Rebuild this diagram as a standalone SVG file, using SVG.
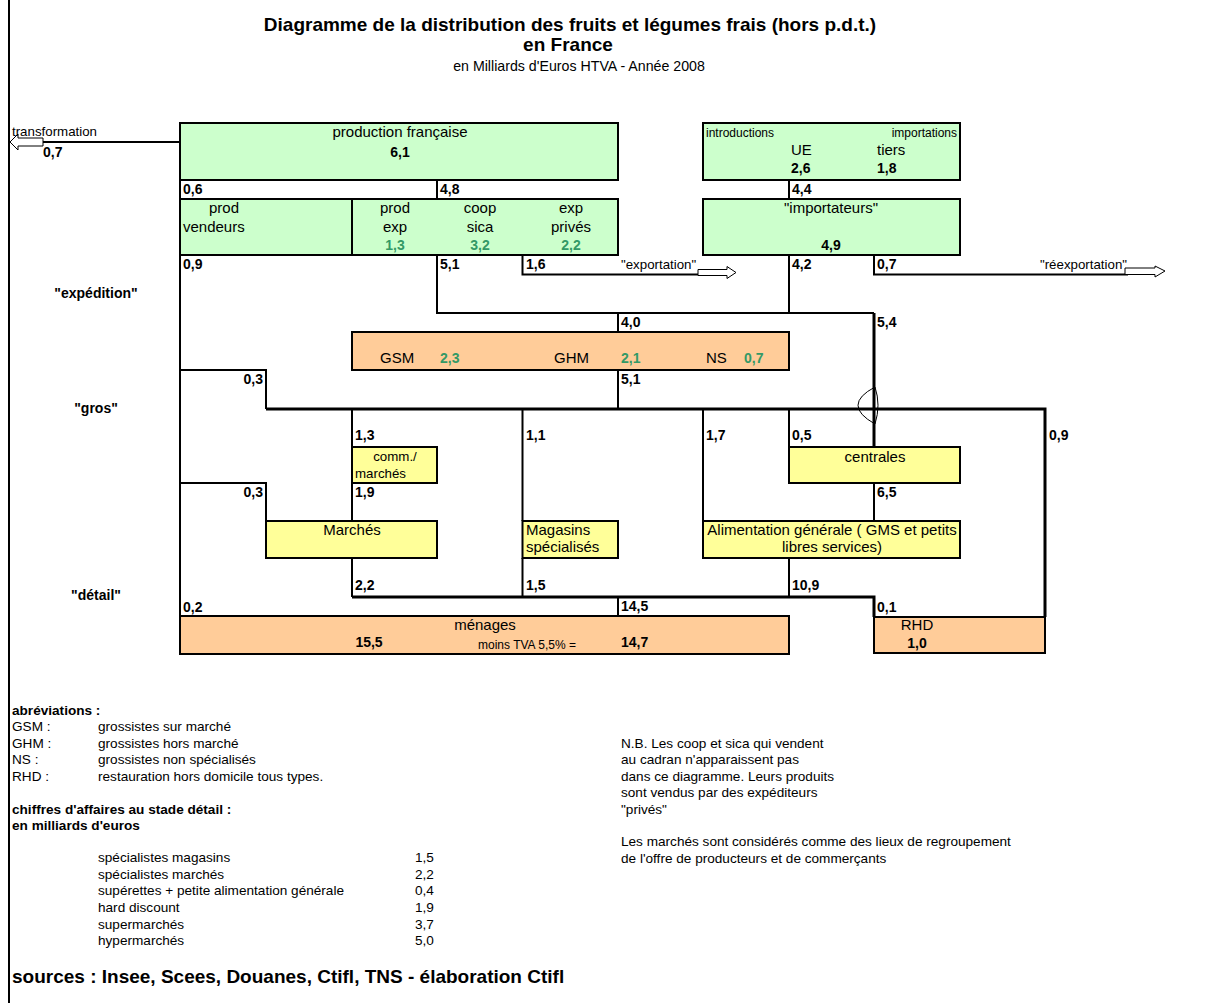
<svg xmlns="http://www.w3.org/2000/svg" width="1214" height="1003" viewBox="0 0 1214 1003">
  <style>
    text { font-family: "Liberation Sans", Arial, sans-serif; fill: #000; }
    .t1 { font-size: 19px; font-weight: bold; }
    .st { font-size: 13.3px; }
    .sub { font-size: 14.2px; }
    .lbl { font-size: 15px; }
    .lbm { font-size: 13.3px; }
    .sm { font-size: 12px; }
    .num { font-size: 14px; font-weight: bold; }
    .grn { fill: #339966; }
    .stage { font-size: 14px; font-weight: bold; }
    .leg { font-size: 13.6px; }
    .legb { font-size: 13.6px; font-weight: bold; }
    .src { font-size: 19px; font-weight: bold; }
    .mid { text-anchor: middle; }
    .end { text-anchor: end; }
    .box { stroke: #000; stroke-width: 2; }
    .g { fill: #CCFFCC; }
    .o { fill: #FFCC99; }
    .y { fill: #FFFF99; }
    .ln { stroke: #000; stroke-width: 2; fill: none; }
    .thk { stroke-width: 3; }
    .arw { fill: #fff; stroke: #000; stroke-width: 1; }
    .thin { stroke: #000; stroke-width: 1; fill: none; }
  </style>

  <rect x="0" y="0" width="1214" height="1003" fill="#fff"/>
  <line x1="9" y1="0" x2="9" y2="1003" class="ln"/>

  <!-- heading -->
  <g id="title">
    <text x="570" y="31" class="t1 mid">Diagramme de la distribution des fruits et légumes frais (hors p.d.t.)</text>
    <text x="568" y="51" class="t1 mid">en France</text>
    <text x="579" y="71" class="sub mid">en Milliards d'Euros HTVA - Année 2008</text>
  </g>

  <!-- flows between stages -->
  <g id="connectors">
    <path class="ln" d="M180 142 H43"/>
    <polygon class="arw" points="43,138 18,138 18,134 10,142 18,150 18,146 43,146"/>
    <path class="ln" d="M180 180 V199 M437 180 V199 M789 180 V199"/>
    <path class="ln" d="M180 255 V616"/>
    <path class="ln" d="M437 255 V313 H874"/>
    <path class="ln" d="M789 255 V313"/>
    <path class="ln" d="M522.5 255 V274.5 H703"/>
    <polygon class="arw" points="698,269.5 727,269.5 727,266.5 736,272.5 727,278.5 727,275.5 698,275.5"/>
    <path class="ln" d="M874 255 V274.5 H1128"/>
    <polygon class="arw" points="1125,268 1155,268 1155,266 1165,271 1155,277 1155,274.5 1125,274.5"/>
    <path class="ln" d="M618 313 V332"/>
    <path class="ln thk" d="M874 313 V447"/>
    <path class="ln" d="M618 370 V409"/>
    <path class="ln" d="M180 370 H266 V409"/>
    <path class="ln thk" d="M266 409 H1045 V617"/>
    <path class="thin" d="M875 387 Q841 405 875 424 M875 387 Q881 405 875 424"/>
    <path class="ln" d="M352 409 V447 M522.5 409 V521 M703 409 V521 M789 409 V447"/>
    <path class="ln" d="M352 483 V521"/>
    <path class="ln" d="M180 483 H266 V521"/>
    <path class="ln" d="M874 483 V521"/>
    <path class="ln" d="M352 558 V597 M522.5 558 V597 M789 558 V597"/>
    <path class="ln thk" d="M352 597 H874 V617"/>
    <path class="ln" d="M618 597 V616"/>
  </g>

  <!-- production stage -->
  <g id="production">
    <rect x="180" y="123" width="438" height="57" class="box g"/>
    <text x="400" y="137" class="lbl mid">production française</text>
    <text x="400" y="157" class="num mid">6,1</text>
  </g>
  <g id="introductions">
    <rect x="703" y="123" width="257" height="57" class="box g"/>
    <text x="706" y="137" class="sm">introductions</text>
    <text x="957" y="137" class="sm end">importations</text>
    <text x="791" y="155" class="lbl">UE</text>
    <text x="877" y="155" class="lbl">tiers</text>
    <text x="791" y="173" class="num">2,6</text>
    <text x="877" y="173" class="num">1,8</text>
  </g>

  <!-- expedition stage -->
  <g id="expediteurs">
    <rect x="180" y="199" width="438" height="56" class="box g"/>
    <line x1="352" y1="199" x2="352" y2="255" class="ln"/>
    <text x="224" y="213" class="lbl mid">prod</text>
    <text x="183" y="232" class="lbl">vendeurs</text>
    <text x="395" y="213" class="lbl mid">prod</text>
    <text x="395" y="232" class="lbl mid">exp</text>
    <text x="395" y="250" class="num mid grn">1,3</text>
    <text x="480" y="213" class="lbl mid">coop</text>
    <text x="480" y="232" class="lbl mid">sica</text>
    <text x="480" y="250" class="num mid grn">3,2</text>
    <text x="571" y="213" class="lbl mid">exp</text>
    <text x="571" y="232" class="lbl mid">privés</text>
    <text x="571" y="250" class="num mid grn">2,2</text>
  </g>
  <g id="importateurs">
    <rect x="703" y="199" width="257" height="56" class="box g"/>
    <text x="831" y="213" class="lbl mid">"importateurs"</text>
    <text x="831" y="250" class="num mid">4,9</text>
  </g>

  <!-- wholesale stage -->
  <g id="grossistes">
    <rect x="352" y="332" width="437" height="38" class="box o"/>
    <text x="380" y="363" class="lbl">GSM</text>
    <text x="440" y="363" class="num grn">2,3</text>
    <text x="554" y="363" class="lbl">GHM</text>
    <text x="621" y="363" class="num grn">2,1</text>
    <text x="706" y="363" class="lbl">NS</text>
    <text x="744" y="363" class="num grn">0,7</text>
  </g>
  <g id="comm-marches">
    <rect x="352" y="447" width="85" height="36" class="box y"/>
    <text x="395" y="461" class="lbm mid">comm./</text>
    <text x="355" y="478" class="lbm">marchés</text>
  </g>
  <g id="centrales">
    <rect x="789" y="447" width="171" height="36" class="box y"/>
    <text x="875" y="462" class="lbl mid">centrales</text>
  </g>

  <!-- retail stage -->
  <g id="marches">
    <rect x="266" y="521" width="171" height="37" class="box y"/>
    <text x="352" y="535" class="lbl mid">Marchés</text>
  </g>
  <g id="magasins">
    <rect x="522.5" y="521" width="95.5" height="37" class="box y"/>
    <text x="526" y="535" class="lbl">Magasins</text>
    <text x="526" y="552" class="lbl">spécialisés</text>
  </g>
  <g id="alimentation">
    <rect x="703" y="521" width="257" height="37" class="box y"/>
    <text x="832" y="535" class="lbl mid">Alimentation générale ( GMS et petits</text>
    <text x="832" y="552" class="lbl mid">libres services)</text>
  </g>

  <!-- consumers -->
  <g id="menages">
    <rect x="180" y="616" width="609" height="38" class="box o"/>
    <text x="485" y="630" class="lbl mid">ménages</text>
    <text x="369" y="647" class="num mid">15,5</text>
    <text x="478" y="649" class="sm">moins TVA 5,5% =</text>
    <text x="621" y="647" class="num">14,7</text>
  </g>
  <g id="rhd">
    <rect x="874" y="617" width="171" height="36" class="box o"/>
    <text x="917" y="630" class="lbl mid">RHD</text>
    <text x="917" y="648" class="num mid">1,0</text>
  </g>

  <!-- flow values -->
  <g id="values">
    <text x="12" y="136" class="st">transformation</text>
    <text x="43" y="157" class="num">0,7</text>
    <text x="183" y="194" class="num">0,6</text>
    <text x="440" y="194" class="num">4,8</text>
    <text x="792" y="194" class="num">4,4</text>
    <text x="183" y="269" class="num">0,9</text>
    <text x="440" y="269" class="num">5,1</text>
    <text x="526" y="269" class="num">1,6</text>
    <text x="621" y="269" class="st">"exportation"</text>
    <text x="792" y="269" class="num">4,2</text>
    <text x="877" y="269" class="num">0,7</text>
    <text x="1127" y="269" class="st end">"réexportation"</text>
    <text x="621" y="327" class="num">4,0</text>
    <text x="877" y="327" class="num">5,4</text>
    <text x="263" y="384" class="num end">0,3</text>
    <text x="621" y="384" class="num">5,1</text>
    <text x="355" y="440" class="num">1,3</text>
    <text x="526" y="440" class="num">1,1</text>
    <text x="706" y="440" class="num">1,7</text>
    <text x="792" y="440" class="num">0,5</text>
    <text x="1049" y="440" class="num">0,9</text>
    <text x="263" y="497" class="num end">0,3</text>
    <text x="355" y="497" class="num">1,9</text>
    <text x="877" y="497" class="num">6,5</text>
    <text x="355" y="590" class="num">2,2</text>
    <text x="526" y="590" class="num">1,5</text>
    <text x="792" y="590" class="num">10,9</text>
    <text x="183" y="612" class="num">0,2</text>
    <text x="621" y="611" class="num">14,5</text>
    <text x="877" y="612" class="num">0,1</text>
  </g>

  <!-- stage names -->
  <g id="stages">
    <text x="96" y="298" class="stage mid">"expédition"</text>
    <text x="96" y="413" class="stage mid">"gros"</text>
    <text x="96" y="600" class="stage mid">"détail"</text>
  </g>

  <!-- notes -->
  <g id="legend">
    <text x="12" y="715" class="legb">abréviations :</text>
    <text x="12" y="731" class="leg">GSM :</text>
    <text x="98" y="731" class="leg">grossistes sur marché</text>
    <text x="12" y="748" class="leg">GHM :</text>
    <text x="98" y="748" class="leg">grossistes hors marché</text>
    <text x="12" y="764" class="leg">NS :</text>
    <text x="98" y="764" class="leg">grossistes non spécialisés</text>
    <text x="12" y="781" class="leg">RHD :</text>
    <text x="98" y="781" class="leg">restauration hors domicile tous types.</text>
    <text x="12" y="814" class="legb">chiffres d'affaires au stade détail :</text>
    <text x="12" y="830" class="legb">en milliards d'euros</text>
    <text x="98" y="862" class="leg">spécialistes magasins</text>
    <text x="415" y="862" class="leg">1,5</text>
    <text x="98" y="879" class="leg">spécialistes marchés</text>
    <text x="415" y="879" class="leg">2,2</text>
    <text x="98" y="895" class="leg">supérettes + petite alimentation générale</text>
    <text x="415" y="895" class="leg">0,4</text>
    <text x="98" y="912" class="leg">hard discount</text>
    <text x="415" y="912" class="leg">1,9</text>
    <text x="98" y="929" class="leg">supermarchés</text>
    <text x="415" y="929" class="leg">3,7</text>
    <text x="98" y="945" class="leg">hypermarchés</text>
    <text x="415" y="945" class="leg">5,0</text>
    <text x="12" y="983" class="src">sources : Insee, Scees, Douanes, Ctifl, TNS - élaboration Ctifl</text>
  </g>
  <g id="notes">
    <text x="621" y="748" class="leg">N.B. Les coop et sica qui vendent</text>
    <text x="621" y="764" class="leg">au cadran n'apparaissent pas</text>
    <text x="621" y="781" class="leg">dans ce diagramme. Leurs produits</text>
    <text x="621" y="797" class="leg">sont vendus par des expéditeurs</text>
    <text x="621" y="814" class="leg">"privés"</text>
    <text x="621" y="846" class="leg">Les marchés sont considérés comme des lieux de regroupement</text>
    <text x="621" y="863" class="leg">de l'offre de producteurs et de commerçants</text>
  </g>
</svg>
